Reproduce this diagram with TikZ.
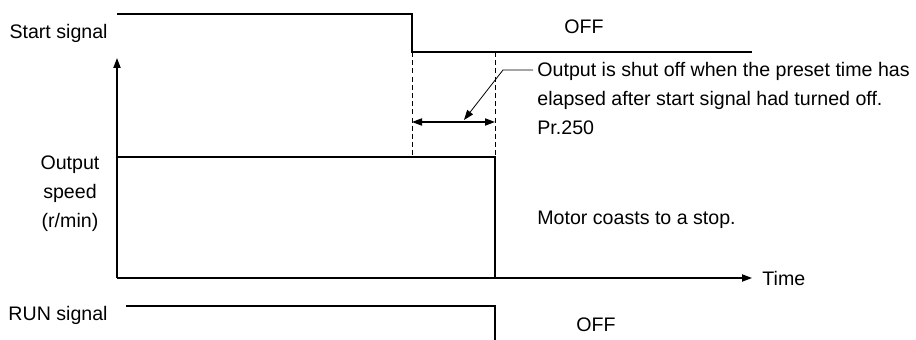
\documentclass[tikz,border=0pt]{standalone}
\usepackage{fontspec}
\setmainfont{Liberation Sans}
\usetikzlibrary{arrows.meta}
\tikzset{
  sig/.style={line width=1.3pt},
  axis/.style={line width=0.7pt},
  guide/.style={line width=0.5pt, dash pattern=on 2.5pt off 1.6pt},
  lbl/.style={inner sep=0pt},
  tip/.style={-{Triangle[length=5pt,width=3.6pt]}}
}
\begin{document}
\begin{tikzpicture}[x=0.5pt,y=-0.5pt,font=\fontsize{9.8}{14.5}\selectfont]
  \useasboundingbox (0,0) rectangle (916,340);
  % start signal
  \coordinate (s0) at (117,14);
  \coordinate (s1) at (412,14);
  \coordinate (s2) at (412,52);
  \coordinate (s3) at (752,52);
  \draw[sig] (s0) -- (s1) -- (s2) -- (s3);
  \node[lbl,anchor=east] (startlbl) at (108,33) {Start signal};
  \node[lbl] (offstart) at (584,27) {OFF};
  % axes
  \coordinate (o) at (117,278);
  \coordinate (ytop) at (117,58);
  \coordinate (xend) at (752,278);
  \draw[axis,tip] (o) -- (ytop);
  \draw[axis,tip] (o) -- (xend);
  \node[lbl,anchor=west] (timelbl) at (762,279) {Time};
  % output speed
  \coordinate (v0) at (117,157);
  \coordinate (v1) at (495,157);
  \coordinate (v2) at (495,278);
  \draw[sig] (v0) -- (v1) -- (v2);
  \node[lbl,align=center] (speedlbl) at (70,194) {Output\\speed\\(r/min)};
  \node[lbl,anchor=west] (coastlbl) at (537,220) {Motor coasts to a stop.};
  % preset time Pr.250
  \coordinate (d1) at (412,157);
  \coordinate (d2) at (495,52);
  \draw[guide] (s2) -- (d1);
  \draw[guide] (d2) -- (v1);
  \coordinate (t1) at (412,122);
  \coordinate (t2) at (495,122);
  \draw[line width=0.6pt,{Triangle[length=5pt,width=3.6pt]}-{Triangle[length=5pt,width=3.6pt]}] (t1) -- (t2);
  \coordinate (arr) at (464,120);
  \coordinate (bend) at (503,70);
  \node[lbl,anchor=west,align=left] (note) at (537,99)
    {Output is shut off when the preset time has\\elapsed after start signal had turned off.\\Pr.250};
  \draw[line width=0.4pt,-{Triangle[length=5pt,width=3.6pt]}] ([xshift=-2pt]note.west |- bend) -- (bend) -- (arr);
  % RUN signal
  \coordinate (r0) at (126,306);
  \coordinate (r1) at (495,306);
  \coordinate (r2) at (495,340);
  \draw[sig] (r0) -- (r1) -- (r2);
  \node[lbl,anchor=east] (runlbl) at (108,315) {RUN signal};
  \node[lbl] (offrun) at (596,325) {OFF};
\end{tikzpicture}
\end{document}
